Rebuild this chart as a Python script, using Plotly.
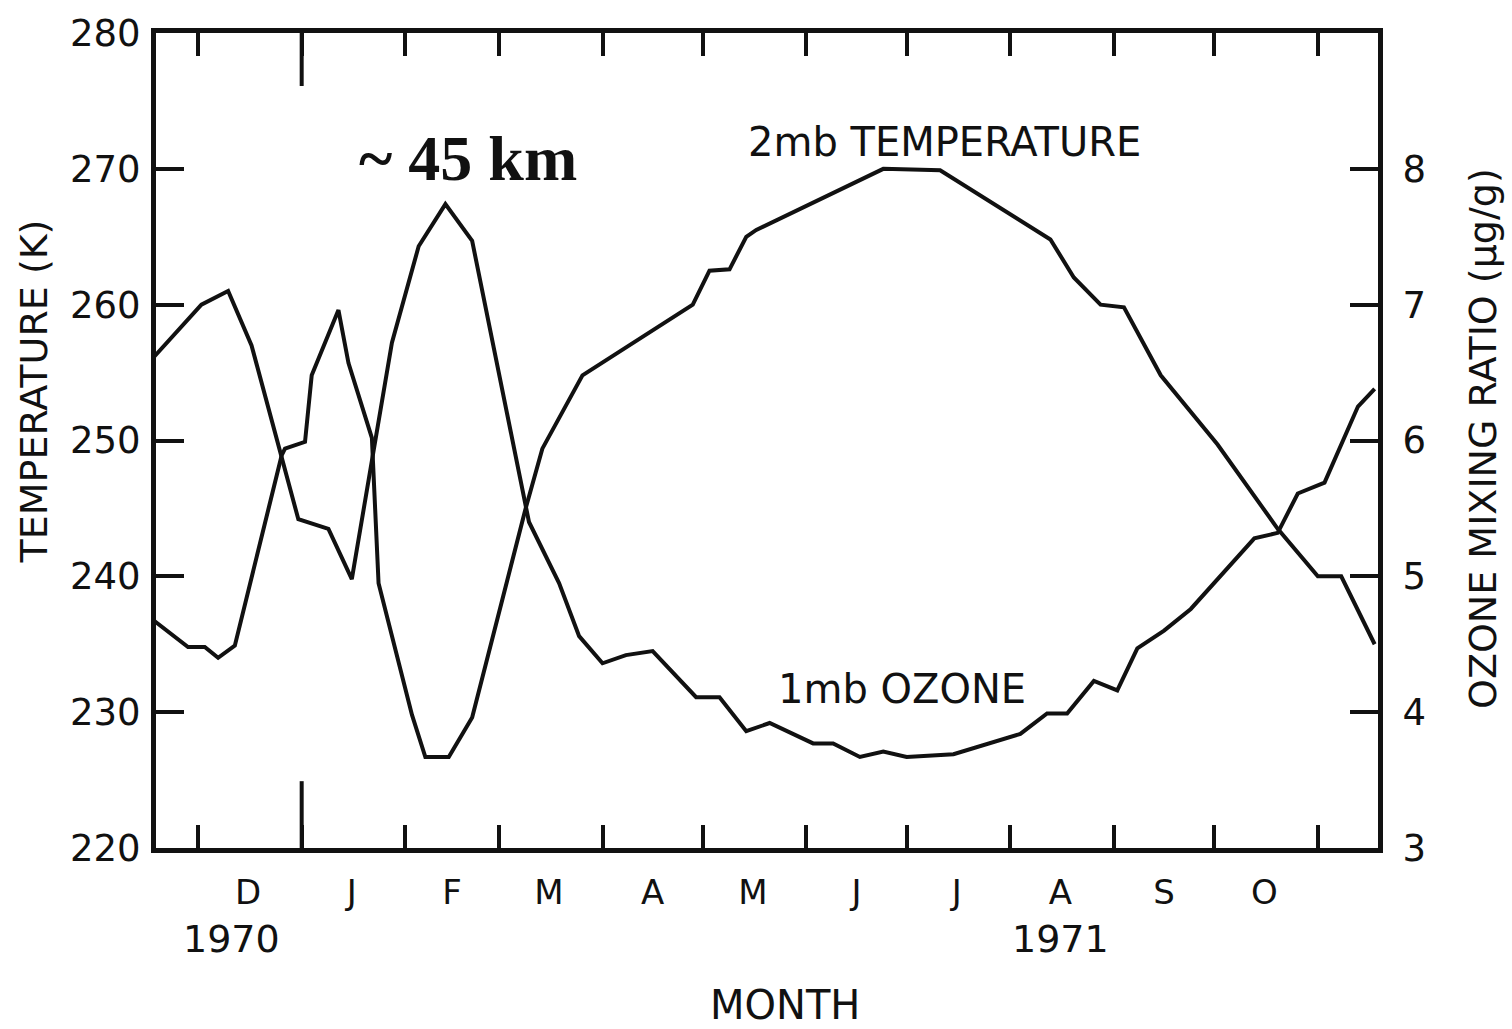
import plotly.graph_objects as go

# 2 mb temperature (K), dated samples
temp_dates = [
    "1970-11-18", "1970-11-28", "1970-12-03", "1970-12-07", "1970-12-12",
    "1970-12-26", "1970-12-27", "1971-01-02", "1971-01-04", "1971-01-12",
    "1971-01-15", "1971-01-22", "1971-01-24", "1971-02-03", "1971-02-07",
    "1971-02-14", "1971-02-21", "1971-03-09", "1971-03-14", "1971-03-26",
    "1971-04-28", "1971-05-03", "1971-05-09", "1971-05-14", "1971-05-17",
    "1971-06-24", "1971-07-11", "1971-08-13", "1971-08-20", "1971-08-28",
    "1971-09-04", "1971-09-15", "1971-10-02", "1971-10-20", "1971-11-01",
    "1971-11-08", "1971-11-18",
]
temp_k = [
    236.7, 234.8, 234.8, 234.0, 234.9,
    248.9, 249.4, 249.9, 254.8, 259.6,
    255.7, 250.2, 239.5, 229.8, 226.7,
    226.7, 229.6, 245.0, 249.4, 254.8,
    260.0, 262.5, 262.6, 265.0, 265.5,
    270.0, 269.9, 264.8, 262.0, 260.0,
    259.8, 254.8, 249.7, 243.5, 240.0,
    240.0, 235.0,
]

# 1 mb ozone mixing ratio (ug/g)
ozone_dates = [
    "1970-11-18", "1970-12-02", "1970-12-10", "1970-12-17", "1970-12-31",
    "1971-01-09", "1971-01-16", "1971-01-28", "1971-02-05", "1971-02-13",
    "1971-02-21", "1971-03-10", "1971-03-19", "1971-03-25", "1971-04-01",
    "1971-04-08", "1971-04-16", "1971-04-29", "1971-05-06", "1971-05-14",
    "1971-05-21", "1971-06-03", "1971-06-09", "1971-06-17", "1971-06-24",
    "1971-07-01", "1971-07-15", "1971-08-04", "1971-08-12", "1971-08-18",
    "1971-08-26", "1971-09-02", "1971-09-08", "1971-09-16", "1971-09-24",
    "1971-10-13", "1971-10-20", "1971-10-26", "1971-11-03", "1971-11-09",
    "1971-11-13", "1971-11-18",
]
ozone_ugg = [
    6.62, 7.00, 7.10, 6.70, 5.42,
    5.35, 4.98, 6.72, 7.43, 7.74,
    7.47, 5.40, 4.95, 4.56, 4.36,
    4.42, 4.45, 4.11, 4.11, 3.86,
    3.92, 3.77, 3.77, 3.67, 3.71,
    3.67, 3.69, 3.84, 3.99, 3.99,
    4.23, 4.16, 4.47, 4.60, 4.76,
    5.28, 5.32, 5.61, 5.69, 6.02,
    6.25, 6.38,
]

# month boundaries (tick marks) and mid-month labels
month_starts = [
    "1970-12-01", "1971-01-01", "1971-02-01", "1971-03-01", "1971-04-01",
    "1971-05-01", "1971-06-01", "1971-07-01", "1971-08-01", "1971-09-01",
    "1971-10-01", "1971-11-01",
]
month_mids = [
    "1970-12-16", "1971-01-16", "1971-02-15", "1971-03-16", "1971-04-16",
    "1971-05-16", "1971-06-16", "1971-07-16", "1971-08-16", "1971-09-16",
    "1971-10-16",
]
month_letters = ["D", "J", "F", "M", "A", "M", "J", "J", "A", "S", "O"]
year_dates = ["1970-12-11", "1971-08-16"]
year_labels = ["1970", "1971"]
year_start = "1971-01-01"

temp_ticks = [220, 230, 240, 250, 260, 270, 280]
ozone_ticks = [3, 4, 5, 6, 7, 8]

INK = "#111111"
LBL = "DejaVu Sans"
X_RANGE = ["1970-11-18 10:00", "1971-11-19"]

W, H = 1512, 1029
ML, MR, MT, MB = 156, 134, 25, 181
PW, PH = W - ML - MR, H - MT - MB


def px(x):
    return (x - ML) / PW


def py(y):
    return (H - MB - y) / PH


fig = go.Figure()
fig.add_trace(go.Scatter(x=temp_dates, y=temp_k, mode="lines",
                         line=dict(color=INK, width=4), xaxis="x", yaxis="y",
                         name="2mb TEMPERATURE", showlegend=False))
fig.add_trace(go.Scatter(x=ozone_dates, y=ozone_ugg, mode="lines",
                         line=dict(color=INK, width=4), xaxis="x", yaxis="y2",
                         name="1mb OZONE", showlegend=False))

fig.update_layout(
    width=W, height=H,
    margin=dict(l=ML, r=MR, t=MT, b=MB),
    paper_bgcolor="white", plot_bgcolor="white",
    font=dict(family=LBL, color=INK),
    xaxis=dict(
        type="date", range=X_RANGE,
        tickmode="array", tickvals=month_mids, ticktext=month_letters,
        ticks="", showgrid=False, zeroline=False,
        tickfont=dict(size=34, family=LBL, color=INK),
        ticklabelstandoff=10,
        showline=True, linewidth=5, linecolor=INK, mirror="ticks",
        minor=dict(tickmode="array", tickvals=month_starts, ticks="inside",
                   ticklen=23, tickwidth=4, tickcolor=INK, showgrid=False),
    ),
    # month marks along the top edge
    xaxis2=dict(
        type="date", range=X_RANGE, overlaying="x", side="top", anchor="y",
        tickmode="array", tickvals=month_starts, ticks="inside",
        ticklen=23, tickwidth=4, tickcolor=INK, showticklabels=False,
        showline=False, showgrid=False, zeroline=False,
    ),
    yaxis=dict(
        range=[220, 280], tickmode="array", tickvals=temp_ticks,
        ticks="inside", ticklen=28, tickwidth=4, tickcolor=INK,
        showgrid=False, zeroline=False,
        showline=True, linewidth=5, linecolor=INK, mirror=True,
        tickfont=dict(size=37, family=LBL, color=INK),
        ticklabelstandoff=3,
    ),
    yaxis2=dict(
        range=[3, 9], overlaying="y", side="right",
        tickmode="array", tickvals=ozone_ticks,
        ticks="inside", ticklen=28, tickwidth=4, tickcolor=INK,
        showgrid=False, zeroline=False,
        showline=True, linewidth=5, linecolor=INK,
        tickfont=dict(size=37, family=LBL, color=INK),
        ticklabelstandoff=12,
    ),
)

# an empty carrier so the top month axis is laid out
fig.add_trace(go.Scatter(x=[month_starts[0]], y=[temp_ticks[0]], mode="lines",
                         xaxis="x2", yaxis="y", hoverinfo="skip",
                         showlegend=False, line=dict(width=0)))

# long marks at the turn of the year, bottom and top
fig.add_shape(type="line", xref="x", yref="paper", x0=year_start, x1=year_start,
              y0=0, y1=0.082, line=dict(color=INK, width=4))
fig.add_shape(type="line", xref="x", yref="paper", x0=year_start, x1=year_start,
              y0=0.935, y1=1, line=dict(color=INK, width=4))


def label(x, y, text, size, xref="paper", family=LBL, angle=0):
    fig.add_annotation(x=x, y=y, xref=xref, yref="paper", text=text,
                       showarrow=False, textangle=angle,
                       xanchor="center", yanchor="middle",
                       font=dict(size=size, family=family, color=INK))


for d, lab in zip(year_dates, year_labels):
    label(d, py(940), lab, 38, xref="x")

label(px(785), py(1007), "MONTH", 40)
label(px(34), py(387), "TEMPERATURE (K)", 38, angle=-90)
label(px(1483), py(435), "OZONE MIXING RATIO (µg/g)", 38, angle=-90)
label(px(945), py(135), "2mb TEMPERATURE", 40)
label(px(902), py(687), "1mb OZONE", 40)
label(px(468), py(152), "<b>~ 45 km</b>", 64, family="Liberation Serif")

fig.write_html("out.html")
